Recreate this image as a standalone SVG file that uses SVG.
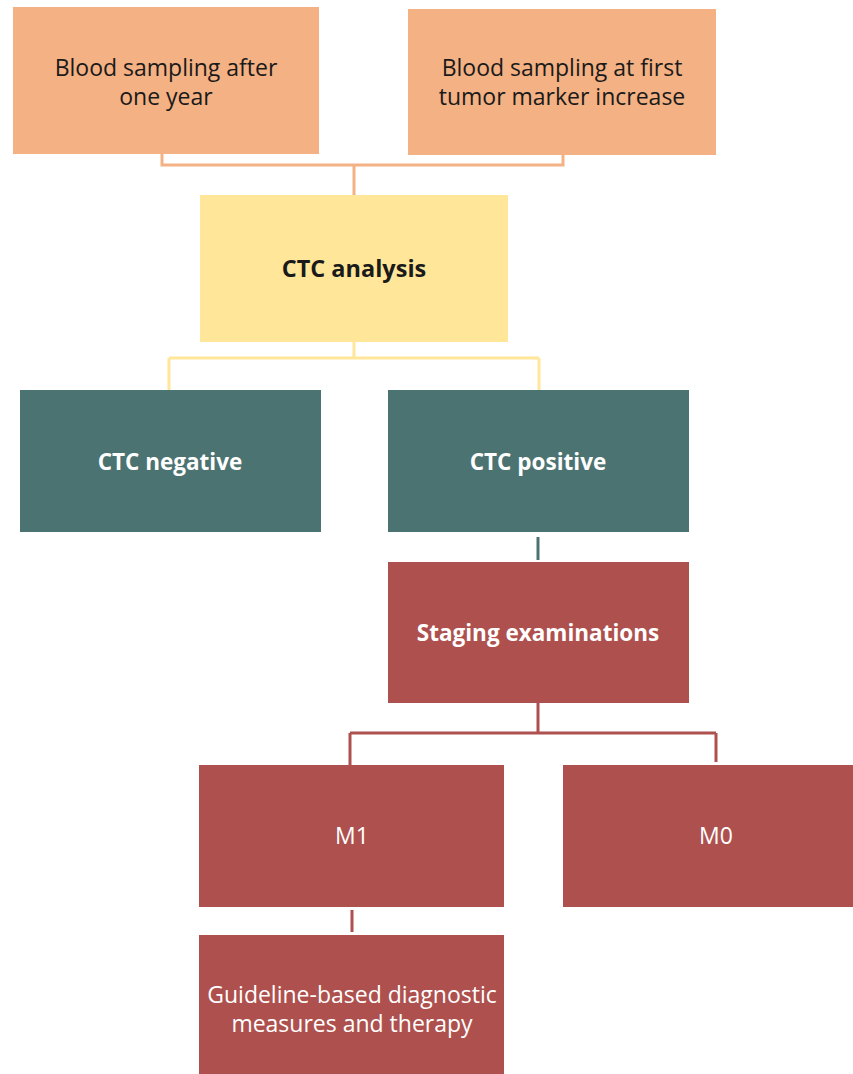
<svg xmlns="http://www.w3.org/2000/svg" width="853" height="1074" viewBox="0 0 853 1074">
<style>
text{font-family:"Open Sans","Liberation Sans",sans-serif;font-size:23px;text-anchor:middle}
.or{fill:#F4B183}.ye{fill:#FFE699}.te{fill:#4B7371}.re{fill:#AE514E}
.dk{fill:#1a1a1a}.wh{fill:#ffffff}.b{font-weight:bold;font-size:22.5px}
.c{fill:none;stroke-width:3}
</style>
<rect width="853" height="1074" fill="#ffffff"/>
<g id="connectors">
<path class="c" stroke="#F4B183" d="M162,154 V165 H563 V155 M354,165 V195"/>
<path class="c" stroke="#FFE699" d="M354,342 V358 M169,358 H539 M169,358 V390 M539,358 V390"/>
<path class="c" stroke="#4B7371" d="M538,537 V560"/>
<path class="c" stroke="#AE514E" d="M538,703 V733 M350,733 H716 M350,733 V765 M716,733 V762 M352,910 V932"/>
</g>
<g id="n1"><rect class="or" x="13" y="7" width="306" height="147"/>
<text class="dk" x="166" y="76">Blood sampling after</text><text class="dk" x="166" y="105">one year</text></g>
<g id="n2"><rect class="or" x="408" y="9" width="308" height="146"/>
<text class="dk" x="562" y="76">Blood sampling at first</text><text class="dk" x="562" y="105">tumor marker increase</text></g>
<g id="n3"><rect class="ye" x="200" y="195" width="308" height="147"/>
<text class="dk b" x="354" y="277" style="font-size:23.5px">CTC analysis</text></g>
<g id="n4"><rect class="te" x="20" y="390" width="301" height="142"/>
<text class="wh b" x="170" y="470">CTC negative</text></g>
<g id="n5"><rect class="te" x="388" y="390" width="301" height="142"/>
<text class="wh b" x="538" y="470">CTC positive</text></g>
<g id="n6"><rect class="re" x="388" y="562" width="301" height="141"/>
<text class="wh b" x="538" y="641">Staging examinations</text></g>
<g id="n7"><rect class="re" x="199" y="765" width="305" height="142"/>
<text class="wh" x="352" y="844">M1</text></g>
<g id="n8"><rect class="re" x="563" y="765" width="290" height="142"/>
<text class="wh" x="716" y="844">M0</text></g>
<g id="n9"><rect class="re" x="199" y="935" width="305" height="139"/>
<text class="wh" x="352" y="1003">Guideline-based diagnostic</text><text class="wh" x="352" y="1032">measures and therapy</text></g>
</svg>
